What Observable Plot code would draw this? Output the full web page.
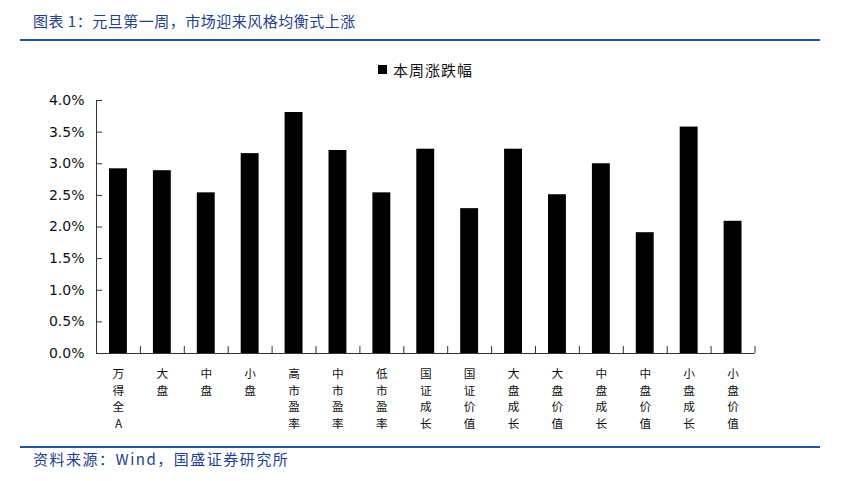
<!DOCTYPE html>
<html>
<head>
<meta charset="utf-8">
<script src="https://cdn.jsdelivr.net/npm/d3@7"></script>
<script src="https://cdn.jsdelivr.net/npm/@observablehq/plot@0.6"></script>
<style>
  html, body { margin: 0; padding: 0; background: #fff; }
  body { width: 850px; height: 481px; position: relative; overflow: hidden; font-family: "Noto Sans CJK SC", sans-serif; }
  .title { position: absolute; left: 33px; top: 10px; font-size: 15px; color: #21418f; letter-spacing: 0.5px; }
  .rule { position: absolute; left: 20px; width: 800px; height: 2px; background: #2352a3; }
  .source { position: absolute; left: 33px; top: 448px; font-size: 15px; color: #21418f; letter-spacing: 1.5px; }
  .legend { position: absolute; left: 378px; top: 59px; font-size: 15px; letter-spacing: 1px; color: #111; display: flex; align-items: center; }
  .legend .sw { width: 9px; height: 9px; background: #000; margin-right: 6px; }
  #chart { position: absolute; left: 0; top: 85px; }
</style>
</head>
<body>
<div class="title">图表 1：元旦第一周，市场迎来风格均衡式上涨</div>
<div class="rule" style="top:39px"></div>
<div class="legend"><span class="sw"></span><span>本周涨跌幅</span></div>
<div id="chart"></div>
<div class="rule" style="top:446px"></div>
<div class="source">资料来源：Wind，国盛证券研究所</div>
<script>
const categories = ["万得全A","大盘","中盘","小盘","高市盈率","中市盈率","低市盈率","国证成长","国证价值","大盘成长","大盘价值","中盘成长","中盘价值","小盘成长","小盘价值"];
const weeklyChange = [0.0292,0.0289,0.0254,0.0316,0.0381,0.0321,0.0254,0.0323,0.0229,0.0323,0.0251,0.0300,0.0191,0.0358,0.0209];
const yTicks = [0,0.005,0.01,0.015,0.02,0.025,0.03,0.035,0.04];

const data = categories.map((c, i) => ({category: c, value: weeklyChange[i]}));
const W = 850, ml = 96, mr = 95.5;
const step = (W - ml - mr) / categories.length;

const chart = Plot.plot({
  width: W,
  height: 355,
  marginTop: 15,
  marginBottom: 87,
  marginLeft: ml,
  marginRight: mr,
  style: {fontFamily: "'Noto Sans CJK SC', sans-serif", color: "#111", background: "#fff"},
  x: {domain: categories, padding: 0, round: false, label: null},
  y: {domain: [0, 0.04], label: null},
  marks: [
    Plot.barY(data, {x: "category", y: "value", fill: "#000", insetLeft: 13, insetRight: 13}),
    Plot.axisY(yTicks, {tickSize: -6, tickPadding: 18, tickFormat: d3.format(".1%"), fontSize: 14, fontFamily: "DejaVu Sans, Verdana, sans-serif", stroke: null, fill: "#111", label: null}),
    Plot.axisY(yTicks, {tickSize: -6, text: null, stroke: "#333"}),
    Plot.axisX(categories, {tickSize: -7, dx: -step/2, text: null, stroke: "#333", label: null}),
    Plot.axisX([categories[categories.length-1]], {tickSize: -7, dx: step/2, text: null, stroke: "#333", label: null}),
    Plot.axisX(categories, {tickSize: 0, tickPadding: 12, tickFormat: d => Array.from(d).join("\n"), lineHeight: 1.45, fontSize: 11.7, fill: "#111", label: null}),
    Plot.ruleY([0], {stroke: "#333"}),
    Plot.frame({anchor: "left", stroke: "#333"})
  ]
});
document.getElementById("chart").appendChild(chart);
</script>
</body>
</html>
